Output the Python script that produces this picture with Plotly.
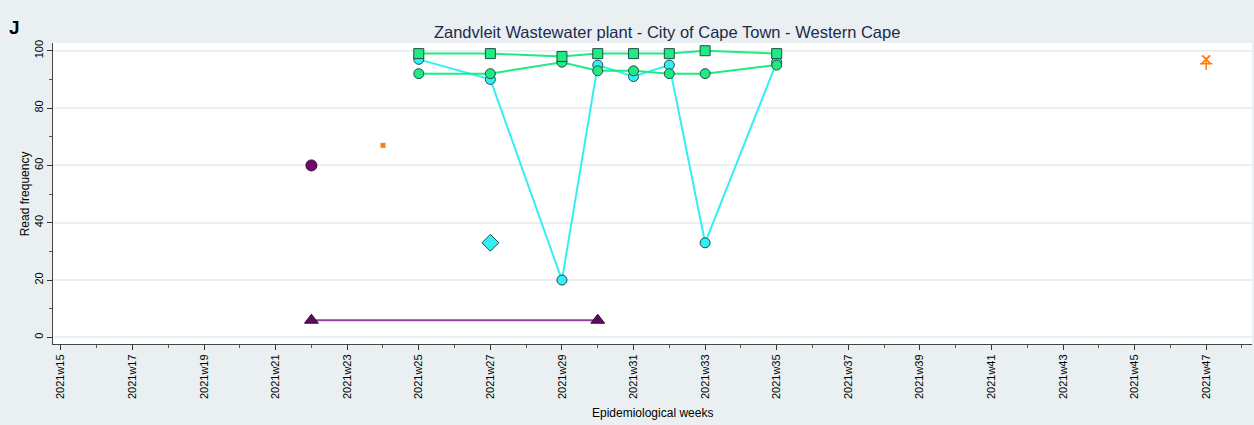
import plotly.graph_objects as go

# ---- data ----
weeks_main = [25, 27, 29, 30, 31, 32, 33, 35]
green_sq = [99, 99, 98, 99, 99, 99, 100, 99]
green_circ = [92, 92, 96, 93, 93, 92, 92, 95]
cyan_circ = [97, 90, 20, 95, 91, 95, 33, 96]

purple_circ_w = [22]
purple_circ_v = [60]
purple_tri_w = [22, 30]
purple_tri_v = [6, 6]
orange_sq_w = [24]
orange_sq_v = [67]
cyan_dia_w = [27]
cyan_dia_v = [33]
orange_x_w = [47]
orange_x_v = [97]
orange_plus_w = [47]
orange_plus_v = [95.5]

tick_weeks = list(range(15, 48, 2))
tick_labels = [f"2021w{w}" for w in tick_weeks]
y_ticks = [0, 20, 40, 60, 80, 100]

GREEN = "#1FEB80"
CYAN = "#33EFF5"
OUTLINE = "#1f4f4a"

fig = go.Figure()

fig.add_trace(go.Scatter(x=purple_tri_w, y=purple_tri_v, mode="lines+markers",
                         line=dict(color="#9B3D9B", width=2),
                         marker=dict(symbol="triangle-up", size=12, color="#5E0A5E",
                                     line=dict(color="#3a053a", width=1))))
fig.add_trace(go.Scatter(x=purple_circ_w, y=purple_circ_v, mode="markers",
                         marker=dict(symbol="circle", size=11, color="#6E0A6E",
                                     line=dict(color="#3a053a", width=1))))
fig.add_trace(go.Scatter(x=orange_sq_w, y=orange_sq_v, mode="markers",
                         marker=dict(symbol="square", size=5, color="#FF7F0E", line=dict(width=0))))
fig.add_trace(go.Scatter(x=weeks_main, y=cyan_circ, mode="lines+markers",
                         line=dict(color=CYAN, width=2),
                         marker=dict(symbol="circle", size=10, color=CYAN,
                                     line=dict(color=OUTLINE, width=1))))
fig.add_trace(go.Scatter(x=weeks_main, y=green_circ, mode="lines+markers",
                         line=dict(color=GREEN, width=2),
                         marker=dict(symbol="circle", size=10, color=GREEN,
                                     line=dict(color=OUTLINE, width=1))))
fig.add_trace(go.Scatter(x=weeks_main, y=green_sq, mode="lines+markers",
                         line=dict(color=GREEN, width=2),
                         marker=dict(symbol="square", size=10, color=GREEN,
                                     line=dict(color=OUTLINE, width=1))))
fig.add_trace(go.Scatter(x=cyan_dia_w, y=cyan_dia_v, mode="markers",
                         marker=dict(symbol="diamond", size=13, color=CYAN,
                                     line=dict(color=OUTLINE, width=1))))
fig.add_trace(go.Scatter(x=orange_x_w, y=orange_x_v, mode="markers",
                         marker=dict(symbol="x-thin", size=8, color="#FF7F0E",
                                     line=dict(color="#FF7F0E", width=2))))
fig.add_trace(go.Scatter(x=orange_plus_w, y=orange_plus_v, mode="markers",
                         marker=dict(symbol="cross-thin", size=9, color="#FF7F0E",
                                     line=dict(color="#FF7F0E", width=1.5))))

fig.update_layout(
    width=1254, height=425,
    margin=dict(l=53, r=2, t=43, b=81),
    paper_bgcolor="#EAF0F1",
    plot_bgcolor="white",
    showlegend=False,
    font=dict(family="Liberation Sans, Arial, sans-serif", color="black", size=12),
    title=dict(text="Zandvleit Wastewater plant - City of Cape Town - Western Cape",
               x=0.532, xanchor="center", y=0.925, yanchor="middle",
               font=dict(size=16.5, color="#1E2A4E")),
    annotations=[
        dict(text="<b>J</b>", xref="paper", yref="paper", x=-0.032, y=1.05,
             xanchor="center", yanchor="middle", showarrow=False,
             font=dict(size=19, color="black")),
        dict(text="Read frequency", xref="paper", yref="paper", x=-0.0235, y=0.5,
             xanchor="center", yanchor="middle", showarrow=False, textangle=-90,
             font=dict(size=12, color="black")),
        dict(text="Epidemiological weeks", xref="paper", yref="paper", x=0.5, y=-0.228,
             xanchor="center", yanchor="middle", showarrow=False,
             font=dict(size=12, color="black")),
    ],
)

fig.update_xaxes(
    automargin=False,
    range=[14.78, 48.28],
    tickmode="array", tickvals=tick_weeks, ticktext=tick_labels,
    tickangle=-90, ticks="outside", ticklen=5, tickcolor="#333",
    minor=dict(dtick=1, tick0=0, ticks="outside", ticklen=3, tickcolor="#555", showgrid=False),
    showgrid=False, zeroline=False,
    showline=True, linecolor="#444", linewidth=1,
    tickfont=dict(size=11),
)
fig.update_yaxes(
    automargin=False,
    range=[-2.3, 102.7],
    tickmode="array", tickvals=y_ticks,
    tickangle=-90, ticks="outside", ticklen=5, tickcolor="#333",
    minor=dict(dtick=10, tick0=0, ticks="outside", ticklen=3, tickcolor="#555", showgrid=False),
    showgrid=True, gridcolor="#EAF0F1", gridwidth=1.5, zeroline=False,
    showline=True, linecolor="#444", linewidth=1,
    tickfont=dict(size=11),
)

fig.write_html("out.html", config={"displayModeBar": False},
               post_script="document.body.style.margin='0';document.body.style.padding='0';")
